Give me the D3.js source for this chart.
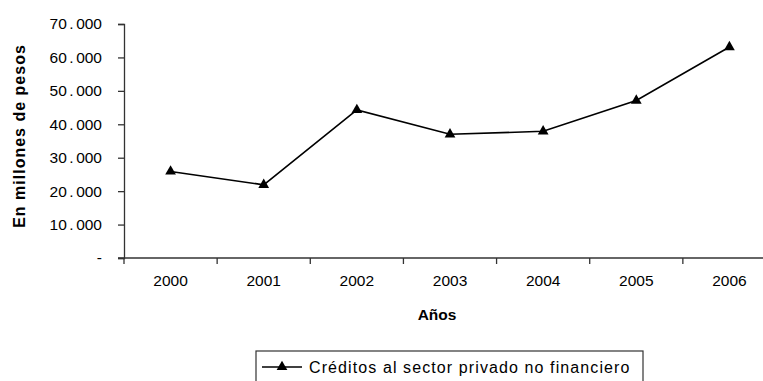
<!DOCTYPE html>
<html>
<head>
<meta charset="utf-8">
<script src="https://cdn.jsdelivr.net/npm/d3@7/dist/d3.min.js"></script>
<style>
  html, body { margin: 0; padding: 0; background: #fff; }
  svg { display: block; font-family: "Liberation Sans", Arial, sans-serif; }
</style>
</head>
<body>
<svg id="chart" width="763" height="381"></svg>
<script>
// Créditos al sector privado no financiero, millones de pesos
const years = ["2000", "2001", "2002", "2003", "2004", "2005", "2006"];
const creditos = [25900, 21900, 44300, 37000, 37900, 47100, 63100];
const yTicks = [0, 10000, 20000, 30000, 40000, 50000, 60000, 70000];
const seriesName = "Créditos al sector privado no financiero";

const svg = d3.select("#chart");
const plotL = 124, plotR = 776, plotT = 24, plotB = 258;
const axisColor = "#333";

const x = d3.scaleBand().domain(years).range([plotL, plotR]);
const y = d3.scaleLinear().domain([0, 70000]).range([plotB, plotT]);

const es = d3.formatLocale({ decimal: ",", thousands: ".", grouping: [3], currency: ["$", ""] });
const fmt = v => v === 0 ? "-" : es.format(",.0f")(v);

// Y axis
const yAxis = svg.append("g")
  .attr("transform", `translate(${plotL},0)`)
  .call(d3.axisLeft(y).tickValues(yTicks).tickFormat(fmt).tickSize(6).tickPadding(16));
yAxis.select(".domain").attr("stroke", axisColor).attr("stroke-width", 1.3);
yAxis.selectAll(".tick line").attr("stroke", axisColor).attr("stroke-width", 1.3);
yAxis.selectAll(".tick text")
  .attr("font-size", 15.5).attr("fill", "#000")
  .each(function () {
    // widen the thousands separator a little
    const t = d3.select(this);
    const parts = t.text().split(".");
    if (parts.length < 2) return;
    t.text(null);
    t.append("tspan").text(parts[0]);
    t.append("tspan").attr("dx", 2.5).text(".");
    t.append("tspan").attr("dx", 2.5).text(parts[1]);
  });

// X axis: labels centred in each band, ticks on band boundaries
const xAxis = svg.append("g")
  .attr("transform", `translate(0,${plotB})`)
  .call(d3.axisBottom(x).tickSize(0).tickPadding(17));
xAxis.select(".domain").remove();
xAxis.selectAll(".tick text").attr("font-size", 15.5).attr("fill", "#000");
xAxis.append("line")
  .attr("x1", plotL - 6).attr("x2", plotR)
  .attr("stroke", axisColor).attr("stroke-width", 1.3);
xAxis.selectAll(".bound")
  .data(years)
  .join("line")
  .attr("class", "bound")
  .attr("x1", d => x(d)).attr("x2", d => x(d))
  .attr("y1", 0).attr("y2", 6)
  .attr("stroke", axisColor).attr("stroke-width", 1.3);

// Axis titles
svg.append("text")
  .attr("transform", "translate(24.5,136) rotate(-90)")
  .attr("text-anchor", "middle")
  .attr("font-size", 16).attr("font-weight", "bold")
  .attr("letter-spacing", 1)
  .text("En millones de pesos");
svg.append("text")
  .attr("x", 437).attr("y", 320)
  .attr("text-anchor", "middle")
  .attr("font-size", 15.5).attr("font-weight", "bold")
  .text("Años");

// Series line and triangle markers
const cx = d => x(d) + x.bandwidth() / 2;
const line = d3.line().x((d, i) => cx(years[i])).y(d => y(d));
svg.append("path")
  .datum(creditos)
  .attr("d", line)
  .attr("fill", "none")
  .attr("stroke", "#000")
  .attr("stroke-width", 1.6);

const tri = d3.symbol().type(d3.symbolTriangle).size(50);
svg.selectAll(".marker")
  .data(creditos)
  .join("path")
  .attr("class", "marker")
  .attr("d", tri)
  .attr("transform", (d, i) => `translate(${cx(years[i])},${y(d)})`)
  .attr("fill", "#000");

// Legend
const lg = svg.append("g");
lg.append("rect")
  .attr("x", 256).attr("y", 351).attr("width", 387).attr("height", 40)
  .attr("fill", "#fff").attr("stroke", axisColor).attr("stroke-width", 1.2);
lg.append("line")
  .attr("x1", 262).attr("x2", 302).attr("y1", 367).attr("y2", 367)
  .attr("stroke", "#000").attr("stroke-width", 1.6);
lg.append("path")
  .attr("d", tri)
  .attr("transform", "translate(282,367)")
  .attr("fill", "#000");
lg.append("text")
  .attr("x", 309).attr("y", 373)
  .attr("font-size", 16)
  .attr("letter-spacing", 1.1)
  .text(seriesName);
</script>
</body>
</html>
